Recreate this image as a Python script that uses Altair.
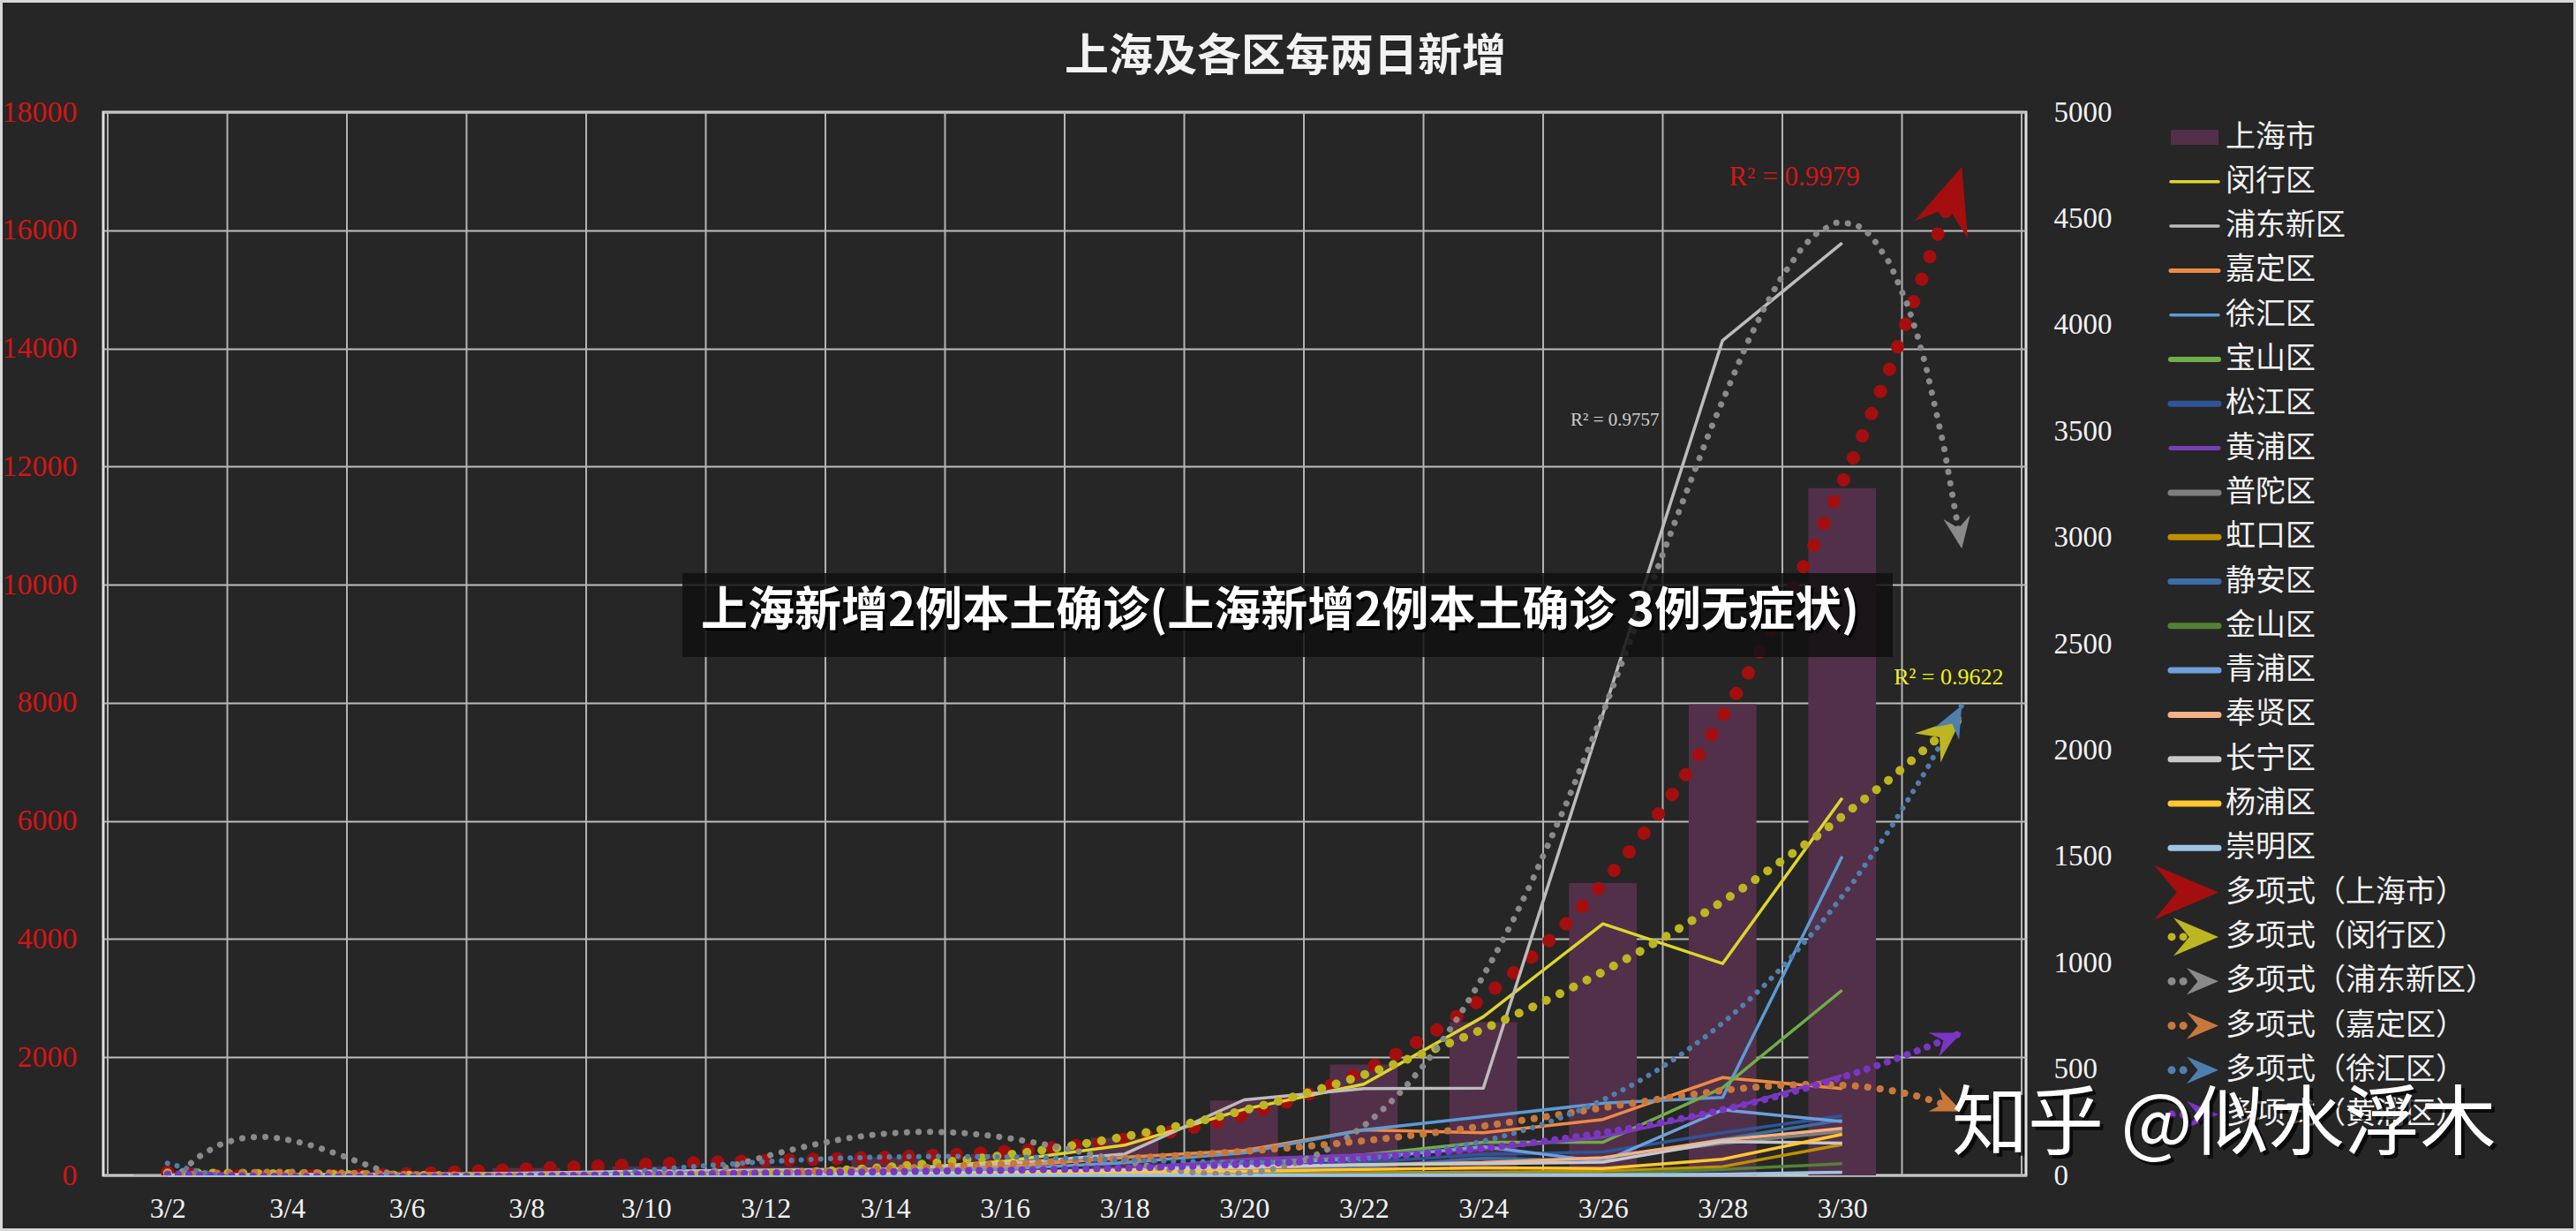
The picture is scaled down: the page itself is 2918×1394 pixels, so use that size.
import json
import altair as alt
import pandas as pd

# ---------------- data ----------------
periods = ["3/2", "3/4", "3/6", "3/8", "3/10", "3/12", "3/14", "3/16",
           "3/18", "3/20", "3/22", "3/24", "3/26", "3/28", "3/30"]

shanghai = [4, 35, 76, 123, 154, 148, 308, 360, 634, 1267, 1877, 2592, 4947, 7977, 11635]

minhang = [2, 4, 6, 8, 15, 20, 25, 66, 142, 311, 429, 746, 1183, 996, 1774]
pudong = [0, 3, 5, 10, 20, 25, 30, 55, 100, 355, 408, 410, 2170, 3926, 4385]
jiading = [0, 2, 3, 5, 8, 10, 15, 40, 85, 117, 214, 200, 263, 460, 408]
xuhui = [0, 1, 2, 5, 10, 15, 20, 30, 60, 106, 214, 276, 339, 366, 1500]
baoshan = [0, 0, 1, 2, 3, 5, 8, 15, 30, 55, 97, 156, 156, 412, 871]
songjiang = [0, 0, 0, 1, 2, 3, 5, 10, 20, 40, 60, 100, 110, 200, 280]
huangpu = [0, 0, 1, 2, 3, 5, 8, 15, 30, 76, 97, 124, 180, 304, 470]
putuo = [0, 0, 0, 1, 2, 3, 5, 10, 20, 30, 50, 60, 80, 150, 207]
hongkou = [0, 0, 0, 0, 1, 1, 2, 3, 5, 8, 12, 15, 20, 41, 145]
jingan = [0, 0, 0, 1, 1, 2, 3, 5, 10, 25, 40, 80, 70, 170, 260]
jinshan = [0, 0, 0, 0, 0, 0, 1, 1, 2, 3, 4, 5, 7, 28, 55]
qingpu = [0, 1, 2, 3, 5, 8, 10, 15, 25, 50, 80, 135, 65, 308, 253]
fengxian = [0, 0, 0, 1, 2, 3, 5, 10, 20, 35, 50, 60, 83, 166, 221]
changning = [0, 0, 1, 2, 3, 5, 8, 15, 25, 40, 50, 55, 62, 159, 152]
yangpu = [0, 0, 1, 1, 2, 3, 5, 8, 12, 20, 28, 35, 32, 76, 193]
chongming = [0, 0, 0, 0, 0, 0, 0, 1, 1, 2, 2, 3, 3, 5, 15]

district_names = ["闵行区", "浦东新区", "嘉定区", "徐汇区", "宝山区", "松江区", "黄浦区", "普陀区",
                  "虹口区", "静安区", "金山区", "青浦区", "奉贤区", "长宁区", "杨浦区", "崇明区"]
district_series = [minhang, pudong, jiading, xuhui, baoshan, songjiang, huangpu, putuo,
                   hongkou, jingan, jinshan, qingpu, fengxian, changning, yangpu, chongming]

r2_labels = ["R² = 0.9979", "R² = 0.9757", "R² = 0.9622"]

# ---------------- styles ----------------
BAR_COLOR = "#53304a"
line_colors = ["#dcd62c", "#bcbcbc", "#ee8a45", "#5b9bd5", "#70ad47", "#2f5597", "#7a3db8", "#7f7f7f",
               "#bf9000", "#3a6ea5", "#548235", "#6f9fdc", "#f4b183", "#c8c8c8", "#ffc82f", "#9dc3e6"]
line_widths = [3.5, 3.5, 5, 3.5, 6, 7, 5, 7, 7, 7, 7, 7, 7, 7, 7, 7]

# (series, poly order, colour, dot size, dot gap, arrow size, legend arrow size)
trend_specs = [
    ("上海市", 4, "#a50e0e", 15, 27, 5600, 5300),
    ("闵行区", 3, "#bdb521", 10, 17, 2700, 2600),
    ("浦东新区", 6, "#8a8a8a", 7, 13, 1300, 1300),
    ("嘉定区", 6, "#c8783c", 8, 14, 1200, 1300),
    ("徐汇区", 4, "#4f7fae", 6, 11, 1300, 1300),
    ("黄浦区", 4, "#7b35c4", 8, 12, 1200, 1300),
]

CJK = "Noto Sans CJK SC"
SERIF = "Liberation Serif"
W, H = 2178, 1204
N = len(periods)
XMAX = N + 1  # trend lines forecast one period forward
LEFT_MAX, RIGHT_MAX = 18000, 5000
ARROW = "M0,0 L-2,-0.85 L-1.3,0 L-2,0.85 Z"

idx = list(range(1, N + 1))
sh_df = pd.DataFrame({"idx": idx, "v": shanghai})
rows = []
for name, series in zip(district_names, district_series):
    for i, v in zip(idx, series):
        rows.append({"idx": i, "district": name, "v": v})
dist_df = pd.DataFrame(rows)
grid_df = pd.DataFrame({"b": [k + 0.5 for k in range(N + 2)]})

xscale = alt.Scale(domain=[0.5, XMAX + 0.5], nice=False, zero=False)
lscale = alt.Scale(domain=[0, LEFT_MAX], nice=False)
rscale = alt.Scale(domain=[0, RIGHT_MAX], nice=False)

xaxis = alt.Axis(values=idx, labelExpr=f"{json.dumps(periods)}[datum.value - 1]", grid=False,
                 domain=False, ticks=False, labelColor="#f2f2f2", labelFont=SERIF, labelFontSize=32,
                 labelPadding=37, labelBaseline="middle", labelAngle=0, labelFlush=False, title=None)
left_axis = alt.Axis(orient="left", values=list(range(0, LEFT_MAX + 1, 2000)), format="d", grid=True,
                     gridColor="#bdbdbd", gridWidth=2, domain=False, ticks=False, labelColor="#d41515",
                     labelFont=SERIF, labelFontSize=34, labelPadding=30, title=None)
right_axis = alt.Axis(orient="right", values=list(range(0, RIGHT_MAX + 1, 500)), format="d", grid=False,
                      domain=False, ticks=False, labelColor="#f2f2f2", labelFont=SERIF, labelFontSize=33,
                      labelPadding=31, labelAlign="left", title=None)


def X(field):
    return alt.X(field, scale=xscale, axis=xaxis, title=None)


def poly_expr(x):
    return " + ".join(f"(datum.coef[{k}] || 0) * pow({x}, {k})" for k in range(7))


def slope_expr(x):
    return " + ".join(f"{k} * (datum.coef[{k}] || 0) * pow({x}, {k - 1})" for k in range(1, 7))


def trend(df, name, order, color, dot, gap, asize, yscale, yaxis, ymax, filt):
    base = alt.Chart(df)
    if filt:
        base = base.transform_filter(alt.datum.district == name)
    Y = lambda f: alt.Y(f, scale=yscale, axis=yaxis, title=None)
    line = base.transform_regression("idx", "v", method="poly", order=order, extent=[1, XMAX]).mark_line(
        color=color, strokeWidth=dot, strokeDash=[0.1, gap], strokeCap="round", clip=True
    ).encode(x=X("idx:Q"), y=Y("v:Q"))
    ratio = (H / ymax) / (W / XMAX)
    arrow = base.transform_regression("idx", "v", method="poly", order=order, params=True).transform_calculate(
        xe=str(XMAX), ye=poly_expr(XMAX),
        ang=f"(atan2(-({slope_expr(XMAX)}) * {ratio}, 1) * 180 / PI + 360) % 360"
    ).mark_point(shape=ARROW, filled=True, size=asize, color=color, opacity=1, strokeWidth=0).encode(
        x=X("xe:Q"), y=Y("ye:Q"), angle=alt.Angle("ang:Q", scale=None))
    return line, arrow


# ---------------- left axis group: Shanghai bars ----------------
vrules = alt.Chart(grid_df).mark_rule(color="#b3b3b3", strokeWidth=2).encode(x=X("b:Q"))
bars = alt.Chart(sh_df).transform_calculate(
    x0="datum.idx - 0.283", x1="datum.idx + 0.283", z="0"
).mark_bar(color=BAR_COLOR, orient="vertical").encode(
    x=X("x0:Q"), x2="x1:Q",
    y=alt.Y("v:Q", scale=lscale, axis=left_axis, title=None), y2="z:Q")
s0 = trend_specs[0]
red_line, red_arrow = trend(sh_df, s0[0], s0[1], s0[2], s0[3], s0[4], s0[5], lscale, left_axis, LEFT_MAX, False)
red_txt = alt.Chart(pd.DataFrame({"x": [14.6], "y": [16900], "t": [r2_labels[0]]})).mark_text(
    font=SERIF, fontSize=31, color="#d41515").encode(
    x=X("x:Q"), y=alt.Y("y:Q", scale=lscale, axis=left_axis, title=None), text="t:N")
left = alt.layer(vrules, bars, red_line, red_arrow, red_txt)

# ---------------- right axis group: districts ----------------
lines = alt.Chart(dist_df).mark_line(strokeJoin="round").encode(
    x=X("idx:Q"),
    y=alt.Y("v:Q", scale=rscale, axis=right_axis, title=None),
    color=alt.Color("district:N", scale=alt.Scale(domain=district_names, range=line_colors), legend=None),
    strokeWidth=alt.StrokeWidth("district:N", scale=alt.Scale(domain=district_names, range=line_widths),
                                legend=None),
)
tr_lines, tr_arrows = [], []
for spec in trend_specs[1:]:
    l, a = trend(dist_df, spec[0], spec[1], spec[2], spec[3], spec[4], spec[5], rscale, right_axis,
                 RIGHT_MAX, True)
    tr_lines.append(l)
    tr_arrows.append(a)
ann_df = pd.DataFrame({"x": [13.1, 15.89], "y": [3551, 2342], "t": r2_labels[1:],
                       "c": ["#d0d0d0", "#f0f020"], "s": [21, 26]})
r_txt = alt.Chart(ann_df).mark_text(font=SERIF).encode(
    x=X("x:Q"), y=alt.Y("y:Q", scale=rscale, axis=right_axis, title=None), text="t:N",
    color=alt.Color("c:N", scale=None), size=alt.Size("s:Q", scale=None))
right = alt.layer(lines, *tr_lines, *tr_arrows, r_txt)

# ---------------- legend & overlays ----------------
leg_rows = [{"i": 0, "label": "上海市", "kind": "bar", "c": BAR_COLOR, "w": 17, "a": 0}]
for k, (name, col, w) in enumerate(zip(district_names, line_colors, line_widths)):
    leg_rows.append({"i": k + 1, "label": name, "kind": "line", "c": col, "w": w, "a": 0})
for k, spec in enumerate(trend_specs):
    leg_rows.append({"i": len(district_names) + 1 + k, "label": f"多项式（{spec[0]}）",
                     "kind": "trend" if k else "trend0", "c": spec[2], "w": 9, "a": spec[6]})
leg_df = pd.DataFrame(leg_rows)
leg_scale = alt.Scale(domain=[-0.567, -0.567 + H / 50.3], reverse=True, nice=False, zero=False)
LY = alt.Y("i:Q", scale=leg_scale, axis=None)
leg_base = alt.Chart(leg_df)
leg_bar = leg_base.transform_filter("datum.kind == 'bar'").mark_rule(strokeCap="butt").encode(
    x=alt.value(2342), x2=alt.value(2396), y=LY, color=alt.Color("c:N", scale=None),
    strokeWidth=alt.StrokeWidth("w:Q", scale=None))
leg_line = leg_base.transform_filter("datum.kind == 'line'").mark_rule(strokeCap="round").encode(
    x=alt.value(2342), x2=alt.value(2396), y=LY, color=alt.Color("c:N", scale=None),
    strokeWidth=alt.StrokeWidth("w:Q", scale=None))
leg_dots = leg_base.transform_filter("datum.kind == 'trend'").mark_rule(
    strokeCap="round", strokeDash=[0.1, 13], strokeWidth=9).encode(
    x=alt.value(2343), x2=alt.value(2358), y=LY, color=alt.Color("c:N", scale=None))
leg_arrow = leg_base.transform_filter("datum.a > 0").mark_point(
    shape=ARROW, filled=True, opacity=1, strokeWidth=0).encode(
    x=alt.value(2396), y=LY, color=alt.Color("c:N", scale=None), size=alt.Size("a:Q", scale=None))
leg_text = leg_base.mark_text(align="left", baseline="middle", font=CJK, fontSize=34, color="#f2f2f2").encode(
    x=alt.value(2404), y=LY, text="label:N")

one = pd.DataFrame({"t": ["上海及各区每两日新增"]})
title = alt.Chart(one).mark_text(font=CJK, fontSize=50, fontWeight="bold", color="#f2f2f2",
                                 align="center", baseline="middle").encode(
    x=alt.value(1339), y=alt.value(-62), text="t:N")

banner_df = pd.DataFrame({"t": ["上海新增2例本土确诊(上海新增2例本土确诊 3例无症状)"]})
banner_rect = alt.Chart(banner_df).mark_rect(color="#111111", opacity=0.85).encode(
    x=alt.value(656), x2=alt.value(2027), y=alt.value(522), y2=alt.value(617))
banner_shadow = alt.Chart(banner_df).mark_text(font=CJK, fontSize=53, fontWeight="bold", color="#000000",
                                               align="center", baseline="middle").encode(
    x=alt.value(1336), y=alt.value(569), text="t:N")
banner_text = alt.Chart(banner_df).mark_text(font=CJK, fontSize=53, fontWeight="bold", color="#ffffff",
                                             align="center", baseline="middle").encode(
    x=alt.value(1333), y=alt.value(566), text="t:N")

wm_df = pd.DataFrame({"t": ["知乎 @似水浮木"]})
wm_shadow = alt.Chart(wm_df).mark_text(font=CJK, fontSize=86, color="#000000", opacity=0.7,
                                       align="left", baseline="middle").encode(
    x=alt.value(2098), y=alt.value(1152), text="t:N")
wm_text = alt.Chart(wm_df).mark_text(font=CJK, fontSize=86, color="#ffffff",
                                     align="left", baseline="middle").encode(
    x=alt.value(2094), y=alt.value(1148), text="t:N")

frame = alt.Chart(one).mark_rect(fillOpacity=0, stroke="#d8d8d8", strokeWidth=3).encode(
    x=alt.value(-115.5), x2=alt.value(2799.5), y=alt.value(-125.5), y2=alt.value(1265.5))

legend = alt.layer(leg_bar, leg_line, leg_dots, leg_arrow, leg_text, title,
                   banner_rect, banner_shadow, banner_text, wm_shadow, wm_text, frame)

chart = alt.layer(left, right, legend).resolve_scale(
    y="independent", color="independent", strokeWidth="independent", size="independent"
).properties(
    width=W, height=H, background="#262626",
    autosize=alt.AutoSizeParams(type="none"),
    padding={"left": 117, "top": 127, "right": 2918 - 117 - W, "bottom": 1394 - 127 - H},
).configure_view(stroke="#e0e0e0", strokeWidth=3)

chart.save("out.html", embed_options={"renderer": "svg", "actions": False})
